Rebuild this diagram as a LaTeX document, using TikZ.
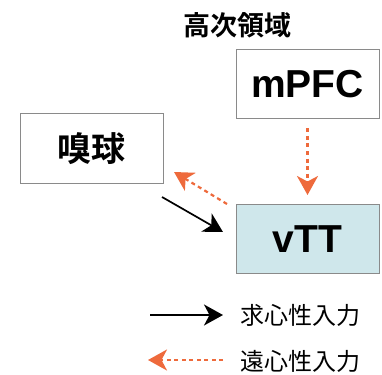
\documentclass[tikz,border=0pt]{standalone}
\usepackage{fontspec}
\setmainfont{Liberation Sans}
\newfontfamily\cjkb{Noto Sans CJK JP}
\newfontfamily\cjkbold{Noto Sans CJK JP Bold}
\usetikzlibrary{arrows.meta}
\definecolor{orng}{HTML}{EE6A3C}
\definecolor{boxgray}{HTML}{8A8A8A}
\definecolor{vttfill}{HTML}{CFE7EB}
\tikzset{
  box/.style={draw=boxgray, line width=1pt, minimum width=143pt, minimum height=69pt, inner sep=0pt},
  aff/.style={line width=1.7pt, -{Stealth[length=19pt,width=21pt,inset=5.5pt]}},
  eff/.style={orng, line width=2.2pt, dash pattern=on 4pt off 3.5pt, -{Stealth[length=19pt,width=21pt,inset=5.5pt]}},
  big/.style={font=\fontsize{39}{39}\selectfont\bfseries},
  cjkbig/.style={font=\fontsize{34}{34}\selectfont\cjkbold},
  legtext/.style={font=\fontsize{24}{24}\selectfont\cjkb, anchor=west, inner sep=0pt}
}
\begin{document}
\begin{tikzpicture}[x=1pt,y=-1pt]
\useasboundingbox (0,0) rectangle (382,374);
\node[font=\fontsize{27}{27}\selectfont\cjkbold] (title) at (237,25) {高次領域};
\node[box, big] (mpfc) at (307.5,84.5) {mPFC};
\node[box, cjkbig] (bulb) at (91.5,148.5) {嗅球};
\node[box, big, fill=vttfill] (vtt) at (307.5,239) {vTT};
\draw[eff, shorten <=9pt, shorten >=9pt] (mpfc.south) -- (vtt.north);
\coordinate (a1) at (162,197);
\coordinate (a2) at (223,232);
\draw[aff] (a1) -- (a2);
\coordinate (e1) at (227,204);
\coordinate (e2) at (174,172);
\draw[eff] (e1) -- (e2);
\coordinate (l1s) at (150,315);
\coordinate (l1e) at (223,315);
\draw[aff] (l1s) -- (l1e);
\node[legtext] (l1t) at (240,315) {求心性入力};
\coordinate (l2s) at (223,360);
\coordinate (l2e) at (148,360);
\draw[eff] (l2s) -- (l2e);
\node[legtext] (l2t) at (240,361) {遠心性入力};
\end{tikzpicture}
\end{document}
